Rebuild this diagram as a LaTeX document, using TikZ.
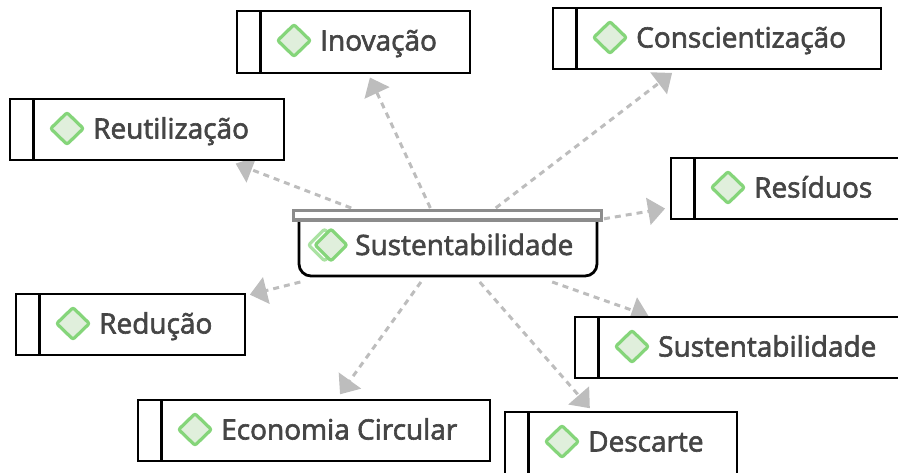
\documentclass[tikz,border=0pt]{standalone}
\usepackage{fontspec}
\setmainfont{Open Sans}[FakeBold=2.2]
\usetikzlibrary{arrows.meta,shapes.geometric,backgrounds}
\definecolor{inkdark}{HTML}{454545}
\definecolor{connc}{HTML}{BDBDBD}
\definecolor{dgreen}{HTML}{85D57A}
\definecolor{dfill}{HTML}{E0EFDC}
\tikzset{
  x=1pt,y=-1pt,
  taskframe/.style={draw=black,line width=2.8pt,fill=white,rectangle,inner sep=0pt,outer sep=0pt},
  gem/.style={diamond,draw=dgreen,fill=dfill,line width=3.2pt,minimum width=34pt,minimum height=33pt,inner sep=0pt,rounded corners=2pt},
  lbl/.style={anchor=base west,inner sep=0pt,text=inkdark,font=\fontsize{28}{30}\selectfont},
  conn/.style={draw=connc,line width=3pt,dash pattern=on 6pt off 5pt,-{Triangle[length=17pt,width=27pt,fill=connc]}},
}
% #1 name, #2 x1, #3 y1, #4 x2, #5 y2, #6 label
\newcommand{\taskbox}[6]{%
  \node[taskframe,minimum width={#4-#2},minimum height={#5-#3}] (#1) at ({(#2+#4)/2},{(#3+#5)/2}) {};
  \draw[black,line width=2.8pt] ({#2+23.5},#3) -- ({#2+23.5},#5);
  \node[gem] (#1gem) at ({#2+57},{#3+29.5}) {};
  \node[lbl] (#1lbl) at ({#2+83},{#3+39.5}) {#6};
}
\begin{document}
\begin{tikzpicture}
\useasboundingbox (0,0) rectangle (898,473);
\taskbox{ino}{237}{11}{470}{73}{Inovação}
\taskbox{con}{553}{8}{881}{69}{Conscientização}
\taskbox{reu}{10}{99}{284}{160}{Reutilização}
\taskbox{res}{671}{158}{900}{219}{Resíduos}
\taskbox{red}{16}{294}{245}{355}{Redução}
\taskbox{sus}{575}{317}{900}{378}{Sustentabilidade}
\taskbox{eco}{138}{400}{490}{461}{Economia Circular}
\taskbox{des}{505}{412}{737}{476}{Descarte}
% central group
\node[rectangle,minimum width=309pt,minimum height=70pt,inner sep=0pt,outer sep=2pt] (hub) at (447.5,245) {};
\draw[black,line width=2.8pt,fill=white,rounded corners=12pt] (299,215) -- (299,276) -- (597,276) -- (597,215);
\draw[draw=black!45,line width=3.4pt,fill=white] (293.5,210.5) rectangle (601.5,220);
\node[gem,minimum width=33pt,minimum height=33pt,fill=white,draw=dgreen!70] (hubback) at (324.5,245) {};
\node[gem,minimum width=33pt,minimum height=33pt] (hubgem) at (331,245) {};
\node[lbl] (hublbl) at (355,255) {Sustentabilidade};
% connectors, under the boxes
\begin{scope}[on background layer]
\foreach \t/\g in {ino/5,con/6.5,reu/10,res/6,red/5,sus/3,eco/7,des/5}{
  \draw[conn,shorten >=\g pt] (hub) -- (\t);
}
\end{scope}
\end{tikzpicture}
\end{document}
